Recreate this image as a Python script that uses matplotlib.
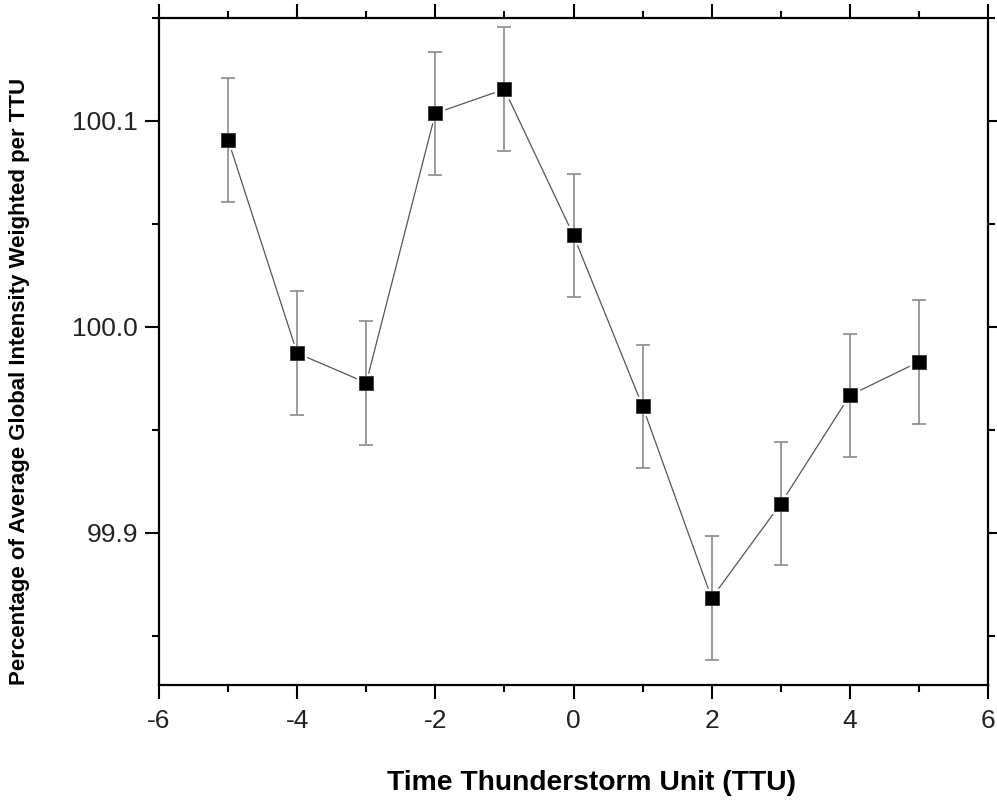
import matplotlib
matplotlib.use("Agg")
import matplotlib.pyplot as plt
from matplotlib.ticker import MultipleLocator, FormatStrFormatter

plt.rcParams['font.family'] = ['Liberation Sans', 'DejaVu Sans']
plt.rcParams['axes.unicode_minus'] = False

# Data
ttu = [-5, -4, -3, -2, -1, 0, 1, 2, 3, 4, 5]
intensity = [100.0908, 99.9872, 99.9728, 100.1037, 100.1154, 100.0444,
             99.9614, 99.8682, 99.9141, 99.9667, 99.9830]
errors = [0.030] * 11

x_label = "Time Thunderstorm Unit (TTU)"
y_label = "Percentage of Average Global Intensity Weighted per TTU"

fig = plt.figure(figsize=(9.97, 8.05), dpi=100)
ax = fig.add_axes([159 / 997, 1 - 685 / 805, (988 - 159) / 997, (685 - 18) / 805])

ax.plot(ttu, intensity, color='#555555', lw=0.9, zorder=2)
ax.plot(ttu, intensity, ls='none', marker='s', ms=12.5, mfc='white', mec='white', zorder=3)
ax.errorbar(ttu, intensity, yerr=errors, fmt='none', ecolor='#8a8a8a',
            elinewidth=1.2, capsize=4.7, capthick=1.2, zorder=4)
ax.plot(ttu, intensity, ls='none', marker='s', ms=9.4, mfc='black',
        mec='#333333', mew=0.6, zorder=5)

ax.set_xlim(-6, 6)
ax.set_ylim(99.826, 100.150)
ax.xaxis.set_major_locator(MultipleLocator(2))
ax.xaxis.set_minor_locator(MultipleLocator(1))
ax.yaxis.set_major_locator(MultipleLocator(0.1))
ax.yaxis.set_minor_locator(MultipleLocator(0.05))
ax.yaxis.set_major_formatter(FormatStrFormatter('%.1f'))

for s in ax.spines.values():
    s.set_linewidth(1.6)
ax.tick_params(which='both', direction='out', top=True, right=True,
               width=1.5, colors='black')
ax.tick_params(which='major', length=10, labelsize=19, labelcolor='#222222')
ax.tick_params(axis='x', which='major', pad=7)
ax.tick_params(axis='y', which='major', pad=5)
ax.tick_params(which='minor', length=5)
ax.tick_params(axis='x', which='both', labeltop=False)
ax.tick_params(axis='y', which='both', labelright=False)

fig.text(591 / 997, 1 - 783 / 805, x_label, ha='center', va='center',
         fontsize=20.3, fontweight='bold')
fig.text(20 / 997, 1 - 381.5 / 805, y_label, ha='center', va='center',
         rotation=90, fontsize=16, fontweight='bold')

fig.savefig('out.png', dpi=100)
